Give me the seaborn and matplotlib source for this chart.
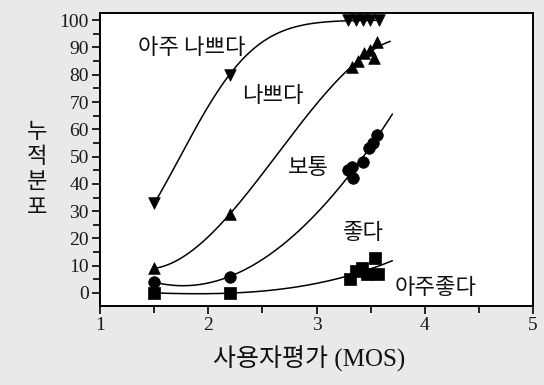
import math
import numpy as np
import pandas as pd
import matplotlib
matplotlib.use("Agg")
import matplotlib.pyplot as plt
import seaborn as sns
from matplotlib.ticker import MultipleLocator

# ---- data ----
very_bad_x = [1.5, 2.2, 3.29, 3.36, 3.43, 3.49, 3.58]
very_bad_y = [33, 80, 100, 100, 100, 100, 100]
bad_x = [1.5, 2.2, 3.33, 3.38, 3.44, 3.49, 3.53, 3.56]
bad_y = [9, 29, 83, 85, 88, 89, 86, 92]
fair_x = [1.5, 2.2, 3.29, 3.33, 3.34, 3.43, 3.48, 3.52, 3.56]
fair_y = [4, 6, 45, 46, 42, 48, 53, 55, 58]
exc_x = [1.5, 2.2, 3.31, 3.36, 3.42, 3.47, 3.54, 3.57]
exc_y = [0, 0, 5, 8, 9, 7, 13, 7]

labels = ["아주 나쁘다", "나쁘다", "보통", "좋다", "아주좋다"]
x_ticks = [1, 2, 3, 4, 5]
y_ticks = [0, 10, 20, 30, 40, 50, 60, 70, 80, 90, 100]
xlabel = "사용자평가 (MOS)"
ylabel = "누적분포"

sns.set_theme(style="ticks")
plt.rcParams['font.family'] = ['DejaVu Serif Condensed', 'Liberation Serif',
                               'Noto Sans CJK KR', 'DejaVu Sans']
KR = ['Noto Sans CJK KR', 'DejaVu Sans']
MIX = ['Liberation Serif', 'Noto Sans CJK KR', 'DejaVu Sans']

fig = plt.figure(figsize=(5.44, 3.85), dpi=100, facecolor="#e9e9e9")
ax = fig.add_axes([0.184, 0.205, 0.796, 0.761])
ax.set_facecolor("white")

_erf = np.vectorize(math.erf)
def phi(z):
    return 0.5 * (1 + _erf(z / math.sqrt(2)))

def cdf_fit(x, y):
    x = np.asarray(x, float); y = np.asarray(y, float)
    best = None
    for mu in np.linspace(1.0, 3.5, 126):
        for s in np.linspace(0.2, 1.5, 66):
            err = np.sum((100 * phi((x - mu) / s) - y) ** 2)
            if best is None or err < best[0]:
                best = (err, mu, s)
    return best[1], best[2]

def curve_df(x, y, x_end, kind):
    xs = np.linspace(min(x), x_end, 200)
    if kind == "cdf":
        mu, s = cdf_fit(x, y)
        ys = 100 * phi((xs - mu) / s)
    else:
        c = np.polyfit(x, y, 3)
        ys = np.polyval(c, xs)
    return pd.DataFrame({"x": xs, "y": ys})

series = [
    (very_bad_x, very_bad_y, "v", 3.58, "cdf"),
    (bad_x, bad_y, "^", 3.68, "poly"),
    (fair_x, fair_y, "o", 3.70, "poly"),
    (exc_x, exc_y, "s", 3.70, "poly"),
]
for xs, ys, m, xend, kind in series:
    d = curve_df(xs, ys, xend, kind)
    sns.lineplot(data=d, x="x", y="y", ax=ax, color="black", lw=1.1, sort=False)
    sns.scatterplot(x=xs, y=ys, ax=ax, marker=m, color="black", s=70,
                    edgecolor="black", linewidth=0.5, zorder=5)

ax.set_xlim(1, 5)
ax.set_ylim(-4.8, 102.6)
ax.set_xticks(x_ticks)
ax.set_yticks(y_ticks)
ax.xaxis.set_minor_locator(MultipleLocator(0.5))
ax.yaxis.set_minor_locator(MultipleLocator(5))
ax.tick_params(axis="both", which="both", direction="out", color="black",
               width=1.2, labelsize=14, labelcolor="#1a1a1a")
ax.tick_params(axis="both", which="major", length=6, pad=2)
ax.tick_params(axis="both", which="minor", length=5)
for sp in ax.spines.values():
    sp.set_visible(True)
    sp.set_color("black")
    sp.set_linewidth(1.4)
ax.set_xlabel("")
ax.set_ylabel("")

# series labels
fs = 16
ax.text(1.35, 90, labels[0], family=KR, fontsize=fs, va="center", ha="left", color="#111111")
ax.text(2.60, 72.5, labels[1], family=KR, fontsize=fs, va="center", ha="center", color="#111111")
ax.text(2.92, 46, labels[2], family=KR, fontsize=fs, va="center", ha="center", color="#111111")
ax.text(3.43, 22, labels[3], family=KR, fontsize=fs, va="center", ha="center", color="#111111")
ax.text(4.10, 2, labels[4], family=KR, fontsize=fs, va="center", ha="center", color="#111111")

fig.text(0.569, 0.068, xlabel, family=MIX, fontsize=18, ha="center", va="center", color="#111111")
fig.text(0.069, 0.56, "\n".join(ylabel), family=KR, fontsize=16, ha="center",
         va="center", linespacing=1.12, color="#111111")

fig.savefig("out.png", dpi=100, facecolor=fig.get_facecolor())
